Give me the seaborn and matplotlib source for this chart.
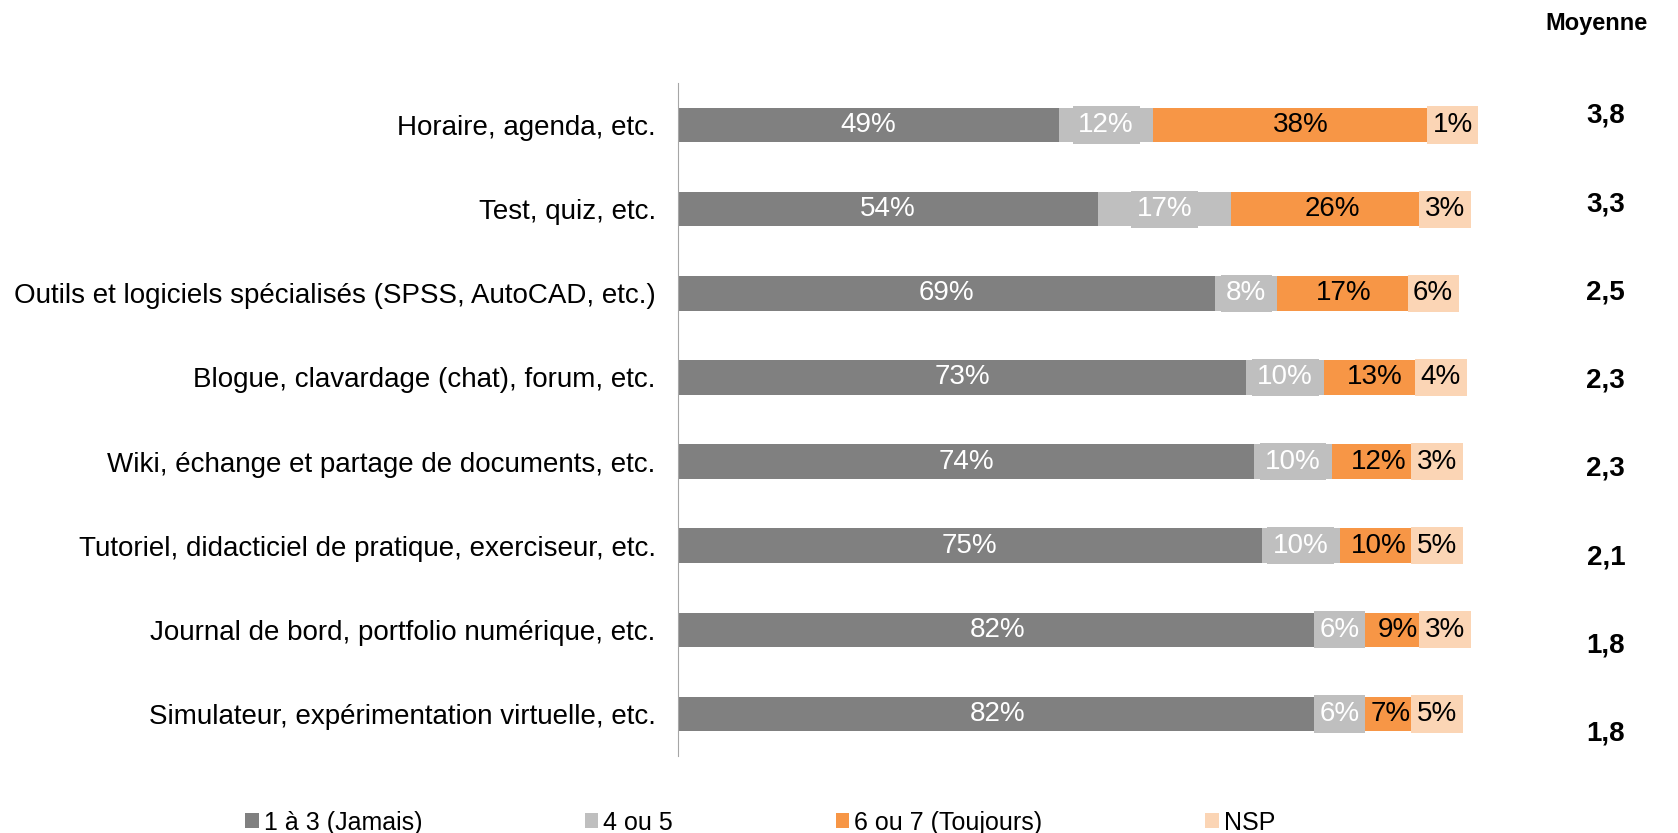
import numpy as np
import pandas as pd
import seaborn as sns
import matplotlib.pyplot as plt
from matplotlib.patches import Patch

# Données
categories = [
    "Horaire, agenda, etc.",
    "Test, quiz, etc.",
    "Outils et logiciels spécialisés (SPSS, AutoCAD, etc.)",
    "Blogue, clavardage (chat), forum, etc.",
    "Wiki, échange et partage de documents, etc.",
    "Tutoriel, didacticiel de pratique, exerciseur, etc.",
    "Journal de bord, portfolio numérique, etc.",
    "Simulateur, expérimentation virtuelle, etc.",
]
jamais = [49, 54, 69, 73, 74, 75, 82, 82]
quatre_cinq = [12, 17, 8, 10, 10, 10, 6, 6]
toujours = [38, 26, 17, 13, 12, 10, 9, 7]
nsp = [1, 3, 6, 4, 3, 5, 3, 5]
moyennes = ["3,8", "3,3", "2,5", "2,3", "2,3", "2,1", "1,8", "1,8"]

series_names = ["1 à 3 (Jamais)", "4 ou 5", "6 ou 7 (Toujours)", "NSP"]
colors = ["#808080", "#BFBFBF", "#F79646", "#FBD5B5"]
text_colors = ["white", "white", "black", "black"]

df = pd.DataFrame({"Categorie": categories, series_names[0]: jamais, series_names[1]: quatre_cinq,
                   series_names[2]: toujours, series_names[3]: nsp})
cum = df[series_names].cumsum(axis=1)

sns.set_style("white")
plt.rcParams["font.family"] = ["Liberation Sans", "DejaVu Sans"]
plt.rcParams["text.color"] = "black"
plt.rcParams["ytick.color"] = "black"

fig = plt.figure(figsize=(16.78, 8.33), dpi=100)
ax = fig.add_axes([0.404, 0.0924, 0.464, 0.808])

# Barres empilées : on dessine les cumuls du plus grand au plus petit
for name, color in reversed(list(zip(series_names, colors))):
    sns.barplot(x=cum[name], y=df["Categorie"], color=color, width=0.41,
                orient="h", ax=ax, saturation=1, linewidth=0)

# Étiquettes de pourcentage
for i in range(len(categories)):
    for j, name in enumerate(series_names):
        val = df.loc[i, name]
        mid = cum.loc[i, name] - val / 2
        kw = {}
        if j in (1, 3):
            kw["bbox"] = dict(boxstyle="square,pad=0.2", fc=colors[j], ec="none")
        ax.text(mid, i, f"{val}%", ha="center", va="center", fontsize=20,
                color=text_colors[j], **kw)

ax.set_xlim(0, 100)
ax.set_ylim(len(categories) - 0.5, -0.5)
ax.set_xlabel("")
ax.set_ylabel("")
ax.set_xticks([])
for s in ["top", "right", "bottom"]:
    ax.spines[s].set_visible(False)
ax.spines["left"].set_color("#A6A6A6")
ax.tick_params(axis="y", which="major", length=0, pad=16, labelsize=20, labelcolor="black")
ax.set_yticks(np.arange(-0.5, len(categories)), minor=True)
ax.tick_params(axis="y", which="minor", length=6, color="#A6A6A6", direction="out")

# Colonne Moyenne
fig.text(0.982, 0.972, "Moyenne", ha="right", va="center", fontsize=17, fontweight="bold")
for y, m in zip(np.linspace(0.861, 0.119, len(moyennes)), moyennes):
    fig.text(0.957, y, m, ha="center", va="center", fontsize=20, fontweight="bold")

# Légende
handles = [Patch(facecolor=c, edgecolor="none") for c in colors]
fig.legend(handles, series_names, loc="lower left", bbox_to_anchor=(0.14, -0.014), ncol=4,
           frameon=False, fontsize=18, handlelength=0.55, handleheight=0.55,
           handletextpad=0.2, columnspacing=6.5, borderaxespad=0)

fig.savefig("out.png", dpi=100)
